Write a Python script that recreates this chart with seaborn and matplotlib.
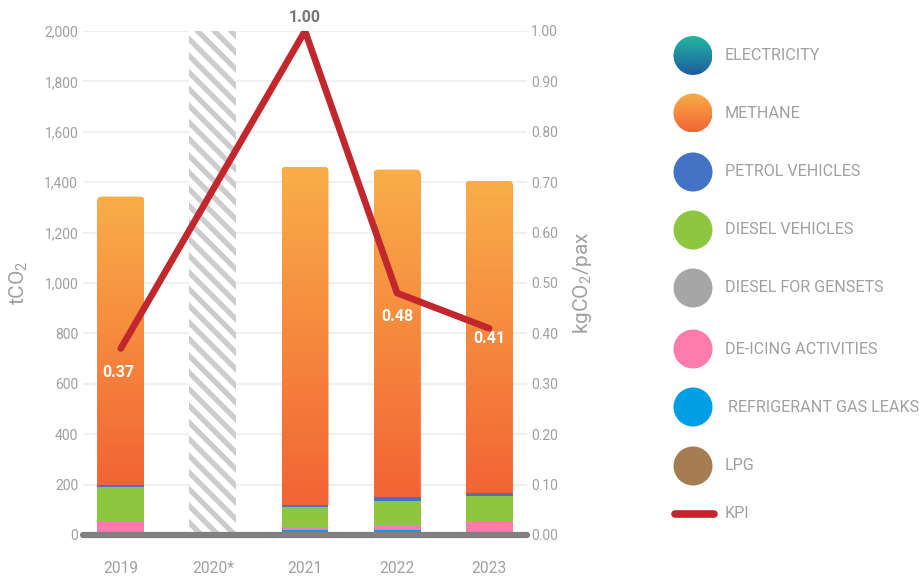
import numpy as np
import matplotlib
matplotlib.use("Agg")
import matplotlib.pyplot as plt
from matplotlib.patches import Circle, FancyBboxPatch
from matplotlib.colors import LinearSegmentedColormap
from matplotlib.ticker import FuncFormatter, MultipleLocator
import seaborn as sns

# ---------------- data ----------------
categories = ["2019", "2020*", "2021", "2022", "2023"]
refrigerant = [0, 0, 21, 21, 0]
deicing = [55, 0, 9, 15, 50]
gensets = [0, 0, 0, 3, 0]
diesel_veh = [136, 0, 82, 96, 106]
petrol_veh = [8, 0, 8, 14, 12]
methane = [1144, 0, 1341, 1301, 1238]
electricity = [0, 0, 0, 0, 0]
lpg = [0, 0, 0, 0, 0]
placeholder_2020 = [0, 2000, 0, 0, 0]

kpi_years = ["2019", "2021", "2022", "2023"]
kpi_values = [0.37, 1.00, 0.48, 0.41]
kpi_labels = ["0.37", "1.00", "0.48", "0.41"]

legend_labels = ["ELECTRICITY", "METHANE", "PETROL VEHICLES", "DIESEL VEHICLES",
                 "DIESEL FOR GENSETS", "DE-ICING ACTIVITIES", "REFRIGERANT GAS LEAKS",
                 "LPG", "KPI"]

# ---------------- style ----------------
sns.set_theme(style="white")
plt.rcParams["font.family"] = ["Roboto", "DejaVu Sans"]
plt.rcParams["mathtext.fontset"] = "custom"
plt.rcParams["mathtext.rm"] = "Roboto"
plt.rcParams["mathtext.it"] = "Roboto"
plt.rcParams["mathtext.default"] = "rm"
plt.rcParams["hatch.linewidth"] = 3.8
TXT = "#a0a0a0"
FW = "normal"

C_METH_TOP, C_METH_BOT = "#F9AE48", "#F26434"
C_ELEC_TOP, C_ELEC_BOT = "#22B7A0", "#1F5CA0"
C_PETROL = "#4472C4"
C_DIESEL = "#8DC63F"
C_GENSET = "#A6A6A6"
C_DEICE = "#FF7BAC"
C_REFRIG = "#009FE3"
C_LPG = "#A67C52"
C_KPI = "#C1272D"

W, H = 920, 579
AX_L, AX_R, AX_B, AX_T = 83, 527, 535, 31
fig = plt.figure(figsize=(W / 100, H / 100), dpi=100)
ax = fig.add_axes([AX_L / W, (H - AX_B) / H, (AX_R - AX_L) / W, (AX_B - AX_T) / H])

n = len(categories)
c1 = np.array(refrigerant, float)
c2 = c1 + np.array(deicing)
c3 = c2 + np.array(gensets)
c4 = c3 + np.array(diesel_veh)
c5 = c4 + np.array(petrol_veh)
c6 = c5 + np.array(methane)

XMIN, XMAX = -0.41, n - 1 + 0.41
px_per_x = (AX_R - AX_L) / (XMAX - XMIN)
px_per_y = (AX_B - AX_T) / 2000.0

bw = 0.51
# placeholder hatched bar
sns.barplot(x=categories, y=placeholder_2020, color="white", width=bw, ax=ax,
            saturation=1, hatch="\\\\", edgecolor="#cccccc", linewidth=0, zorder=1)

# total (methane top) bars
sns.barplot(x=categories, y=c6, color=C_METH_BOT, width=bw, ax=ax, saturation=1,
            linewidth=0, zorder=2)
meth_bars = ax.containers[-1]

cmap_m = LinearSegmentedColormap.from_list("meth", [C_METH_BOT, C_METH_TOP])
grad = np.linspace(0, 1, 256).reshape(-1, 1)
rsize = 5.0 / px_per_x
for i, p in enumerate(meth_bars):
    if methane[i] <= 0:
        continue
    x0, w = p.get_x(), p.get_width()
    rnd = FancyBboxPatch((x0, -80), w, c6[i] + 80,
                         boxstyle=f"round,pad=0,rounding_size={rsize}",
                         mutation_aspect=px_per_x / px_per_y,
                         transform=ax.transData, facecolor="none", edgecolor="none")
    ax.add_patch(rnd)
    p.set_clip_path(rnd)
    im = ax.imshow(grad, cmap=cmap_m, origin="lower", aspect="auto",
                   extent=(x0, x0 + w, c5[i], c6[i]), zorder=2.5,
                   interpolation="bilinear")
    im.set_clip_path(rnd)

layers = [(c5, C_PETROL), (c4, C_DIESEL), (c3, C_GENSET), (c2, C_DEICE), (c1, C_REFRIG)]
for k, (vals, col) in enumerate(layers):
    sns.barplot(x=categories, y=vals, color=col, width=bw, ax=ax, saturation=1,
                linewidth=0, zorder=3 + k)

ax.set_xlim(XMIN, XMAX)
ax.set_ylim(0, 2000)
ax.yaxis.set_major_locator(MultipleLocator(200))
ax.yaxis.set_major_formatter(FuncFormatter(lambda v, _: f"{int(v):,}"))
ax.grid(axis="y", color="#f0f0f0", linewidth=1.6, zorder=0)
ax.set_axisbelow(True)
for s in ax.spines.values():
    s.set_visible(False)
ax.tick_params(axis="both", length=0, colors=TXT, labelsize=10)
ax.tick_params(axis="x", labelsize=11.2, pad=19)
for t in ax.get_yticklabels() + ax.get_xticklabels():
    t.set_fontweight(FW)
ax.set_xlabel("")
ax.set_ylabel("tCO$_2$", color=TXT, fontsize=15, fontweight=FW, labelpad=10)
ax.axhline(0, color="#808080", linewidth=4.5, solid_capstyle="round",
           zorder=20, clip_on=False)

# KPI axis
ax2 = ax.twinx()
kx = [categories.index(y) for y in kpi_years]
sns.lineplot(x=kx, y=kpi_values, color=C_KPI, linewidth=4.8, ax=ax2,
             solid_capstyle="round", solid_joinstyle="round")
ax2.set_ylim(0, 1.0)
ax2.set_xlim(XMIN, XMAX)
ax2.yaxis.set_major_locator(MultipleLocator(0.1))
ax2.yaxis.set_major_formatter(FuncFormatter(lambda v, _: f"{v:.2f}"))
for s in ax2.spines.values():
    s.set_visible(False)
ax2.tick_params(axis="y", length=0, colors=TXT, labelsize=10, pad=3)
for t in ax2.get_yticklabels():
    t.set_fontweight(FW)
ax2.set_ylabel("kgCO$_2$/pax", color=TXT, fontsize=15, fontweight=FW, labelpad=9)
ax2.grid(False)

offsets = {"2019": (-2, -17), "2021": (0, 10), "2022": (0, -17), "2023": (0, -7)}
for yr, v, lab in zip(kpi_years, kpi_values, kpi_labels):
    x = categories.index(yr)
    dx, dy = offsets[yr]
    col = "#777777" if yr == "2021" else "white"
    ax2.annotate(lab, (x, v), xytext=(dx, dy), textcoords="offset points",
                 ha="center", va="center", color=col, fontsize=11.5,
                 fontweight="bold", clip_on=False, zorder=30)

# ---------------- legend ----------------
lax = fig.add_axes([660 / W, 0, (W - 660) / W, 1])
lax.set_xlim(660, W)
lax.set_ylim(H, 0)
lax.axis("off")
cx, rad = 693, 19.5
rows = [55.5, 113, 172, 230, 288, 349, 407, 466]
fills = [("grad", C_ELEC_TOP, C_ELEC_BOT), ("grad", C_METH_TOP, C_METH_BOT),
         C_PETROL, C_DIESEL, C_GENSET, C_DEICE, C_REFRIG, C_LPG]
for yy, f, lab in zip(rows, fills, legend_labels[:8]):
    if isinstance(f, tuple):
        circ = Circle((cx, yy), rad, facecolor="none", edgecolor="none")
        lax.add_patch(circ)
        cm = LinearSegmentedColormap.from_list("g", [f[1], f[2]])
        im = lax.imshow(grad, cmap=cm, origin="lower", aspect="auto",
                        extent=(cx - rad, cx + rad, yy - rad, yy + rad),
                        interpolation="bilinear")
        im.set_clip_path(circ)
    else:
        lax.add_patch(Circle((cx, yy), rad, facecolor=f, edgecolor="none"))
    tx = 728 if lab.startswith("REFRIG") else 725
    lax.text(tx, yy, lab, color=TXT, fontsize=11.6, fontweight=FW,
             va="center", ha="left")
lax.plot([675, 714], [514, 514], color=C_KPI, linewidth=5.5, solid_capstyle="round")
lax.text(725, 514, "KPI", color=TXT, fontsize=11.6, fontweight=FW,
         va="center", ha="left")
lax.set_xlim(660, W)
lax.set_ylim(H, 0)

fig.savefig("out.png", dpi=100)
